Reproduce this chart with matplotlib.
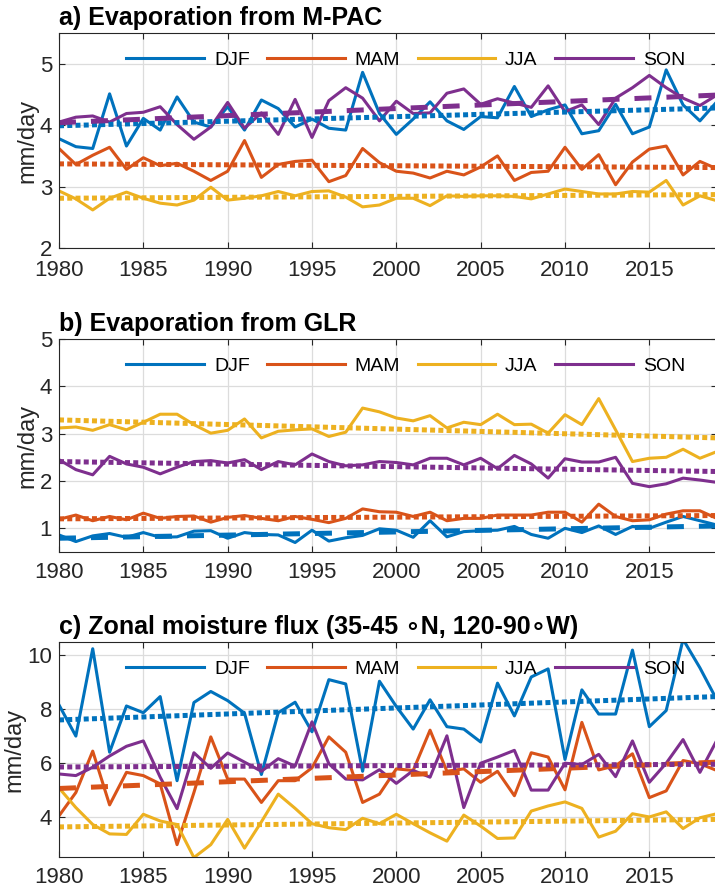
import numpy as np
import matplotlib
matplotlib.use('Agg')
import matplotlib.pyplot as plt

plt.rcParams['font.family'] = ['Liberation Sans', 'DejaVu Sans']

years = np.arange(1980, 2020)
seasons = ['DJF', 'MAM', 'JJA', 'SON']
colors = ['#0072BD', '#D95319', '#EDB120', '#7E2F8E']

# a) Evaporation from M-PAC
mpac_djf = [3.78, 3.65, 3.62, 4.51, 3.66, 4.11, 3.92, 4.46, 4.05, 3.97,
            4.30, 3.92, 4.41, 4.27, 3.97, 4.10, 3.95, 3.92, 4.86, 4.19,
            3.85, 4.10, 4.38, 4.07, 3.93, 4.14, 4.12, 4.63, 4.14, 4.25,
            4.33, 3.86, 3.91, 4.34, 3.86, 3.97, 4.90, 4.33, 4.07, 4.38]
mpac_mam = [3.62, 3.36, 3.51, 3.64, 3.28, 3.47, 3.34, 3.38, 3.25, 3.10,
            3.25, 3.75, 3.15, 3.36, 3.41, 3.43, 3.08, 3.18, 3.62, 3.39,
            3.25, 3.22, 3.14, 3.25, 3.19, 3.32, 3.50, 3.10, 3.23, 3.25,
            3.64, 3.28, 3.52, 3.03, 3.40, 3.61, 3.66, 3.19, 3.41, 3.29]
mpac_jja = [2.93, 2.80, 2.62, 2.81, 2.91, 2.81, 2.73, 2.70, 2.78, 2.99,
            2.78, 2.81, 2.85, 2.92, 2.85, 2.92, 2.93, 2.83, 2.67, 2.70,
            2.81, 2.81, 2.69, 2.85, 2.84, 2.85, 2.85, 2.84, 2.80, 2.88,
            2.96, 2.92, 2.88, 2.88, 2.92, 2.91, 3.10, 2.70, 2.85, 2.77]
mpac_son = [4.05, 4.13, 4.15, 4.05, 4.19, 4.21, 4.30, 4.01, 3.77, 3.97,
            4.37, 3.95, 4.20, 3.85, 4.42, 3.80, 4.40, 4.61, 4.44, 4.07,
            4.39, 4.19, 4.20, 4.52, 4.59, 4.34, 4.43, 4.36, 4.29, 4.64,
            4.22, 4.33, 4.01, 4.44, 4.61, 4.81, 4.61, 4.44, 4.32, 4.49]
mpac_trend = [(3.99, 4.28), (3.37, 3.31), (2.81, 2.87), (4.04, 4.49)]
mpac_sig = [False, False, False, True]

# b) Evaporation from GLR
glr_djf = [0.86, 0.72, 0.84, 0.89, 0.81, 0.91, 0.81, 0.82, 0.94, 0.95,
           0.79, 0.91, 0.87, 0.86, 0.70, 0.96, 0.73, 0.80, 0.85, 0.99,
           0.96, 0.81, 1.16, 0.82, 0.93, 0.95, 0.96, 1.04, 0.87, 0.79,
           1.00, 0.91, 1.05, 0.87, 1.04, 1.00, 1.13, 1.25, 1.16, 1.07]
glr_mam = [1.19, 1.28, 1.16, 1.25, 1.18, 1.32, 1.21, 1.25, 1.26, 1.13,
           1.23, 1.27, 1.21, 1.16, 1.25, 1.19, 1.12, 1.21, 1.41, 1.35,
           1.34, 1.25, 1.34, 1.16, 1.21, 1.21, 1.28, 1.28, 1.28, 1.34,
           1.34, 1.13, 1.51, 1.25, 1.16, 1.18, 1.30, 1.37, 1.37, 1.21]
glr_jja = [3.12, 3.14, 3.07, 3.19, 3.08, 3.24, 3.41, 3.41, 3.19, 3.01,
           3.07, 3.31, 2.91, 3.05, 3.08, 3.10, 2.94, 3.03, 3.54, 3.46,
           3.33, 3.27, 3.38, 3.12, 3.24, 3.19, 3.41, 3.19, 3.20, 3.01,
           3.40, 3.19, 3.74, 3.08, 2.41, 2.48, 2.50, 2.67, 2.48, 2.62]
glr_son = [2.45, 2.24, 2.13, 2.52, 2.36, 2.29, 2.15, 2.29, 2.41, 2.43,
           2.38, 2.45, 2.24, 2.41, 2.34, 2.57, 2.41, 2.32, 2.34, 2.41,
           2.39, 2.34, 2.48, 2.48, 2.34, 2.48, 2.26, 2.54, 2.36, 2.06,
           2.47, 2.40, 2.40, 2.50, 1.95, 1.88, 1.94, 2.06, 2.02, 1.97]
glr_trend = [(0.79, 1.05), (1.20, 1.27), (3.29, 2.91), (2.41, 2.20)]
glr_sig = [True, False, False, False]

# c) Zonal moisture flux
flux_djf = [8.16, 7.00, 10.25, 6.40, 8.12, 7.87, 8.47, 5.34, 8.25, 8.66,
            8.32, 7.85, 5.57, 7.87, 8.26, 7.16, 9.10, 8.94, 5.69, 9.04,
            8.10, 7.26, 8.35, 7.35, 7.26, 6.78, 8.97, 7.75, 9.20, 9.50,
            6.13, 8.72, 7.82, 7.82, 10.20, 7.35, 7.95, 10.60, 9.54, 8.35]
flux_mam = [4.03, 4.90, 6.44, 4.44, 5.65, 5.53, 5.22, 2.96, 4.90, 6.97,
            5.40, 5.40, 4.53, 5.34, 5.34, 5.82, 6.97, 6.40, 4.53, 4.84,
            5.78, 5.72, 7.22, 5.69, 5.78, 5.28, 5.69, 4.78, 6.38, 6.22,
            5.00, 7.51, 5.74, 5.90, 6.34, 4.71, 4.96, 6.09, 5.97, 5.72]
flux_jja = [5.07, 4.34, 3.71, 3.36, 3.34, 4.09, 3.84, 3.71, 2.48, 2.96,
            3.90, 2.83, 3.81, 4.84, 4.31, 3.74, 3.59, 3.52, 3.94, 3.74,
            4.09, 3.74, 3.40, 3.09, 4.06, 3.65, 3.19, 3.21, 4.21, 4.40,
            4.55, 4.31, 3.24, 3.46, 4.11, 3.99, 4.18, 3.56, 3.96, 4.11]
flux_son = [5.59, 5.53, 5.84, 6.26, 6.62, 6.82, 5.47, 4.30, 6.38, 5.80,
            6.37, 6.03, 5.69, 6.16, 5.88, 7.53, 5.97, 5.40, 5.37, 5.75,
            5.24, 5.72, 5.47, 7.01, 4.34, 5.99, 6.22, 6.47, 4.99, 4.99,
            5.99, 5.94, 6.32, 5.49, 6.82, 5.28, 5.99, 6.87, 5.65, 6.84]
flux_trend = [(7.60, 8.47), (5.05, 6.03), (3.62, 3.90), (5.85, 5.95)]
flux_sig = [False, True, False, False]

panels = [
    ('a) Evaporation from M-PAC', [mpac_djf, mpac_mam, mpac_jja, mpac_son],
     mpac_trend, mpac_sig, (2, 5.5), [2, 3, 4, 5]),
    ('b) Evaporation from GLR', [glr_djf, glr_mam, glr_jja, glr_son],
     glr_trend, glr_sig, (0.5, 5), [1, 2, 3, 4, 5]),
    ('c) Zonal moisture flux (35-45 \u2218N, 120-90\u2218W)',
     [flux_djf, flux_mam, flux_jja, flux_son],
     flux_trend, flux_sig, (2.5, 10.5), [4, 6, 8, 10]),
]

fig = plt.figure(figsize=(7.15, 8.88), dpi=100)
axes_pos = [[0.0825, 0.7207, 0.920, 0.2421],
            [0.0825, 0.3784, 0.920, 0.2399],
            [0.0825, 0.0349, 0.920, 0.2421]]
xpads = [8.5, 7, 7]

for pos, xpad, (title, series, trend, sig, ylim, yticks) in zip(axes_pos, xpads, panels):
    ax = fig.add_axes(pos)
    for vals, c, name in zip(series, colors, seasons):
        ax.plot(years, vals, '-', color=c, linewidth=2.2, label=name)
    for tr, s, c in zip(trend, sig, colors):
        if s:
            ax.plot([years[0], years[-1]], tr, color=c, linewidth=3.6,
                    dashes=(3.4, 3.0), solid_capstyle='butt')
        else:
            ax.plot([years[0], years[-1]], tr, color=c, linewidth=3.6,
                    dashes=(1.0, 0.65), solid_capstyle='butt')
    ax.set_xlim(1980, 2019)
    ax.set_ylim(ylim)
    ax.set_yticks(yticks)
    ax.set_xticks(np.arange(1980, 2019, 5))
    ax.grid(True, color='#dcdcdc', linewidth=0.9)
    ax.set_axisbelow(True)
    ax.tick_params(direction='in', length=4.5, width=0.8, colors='#262626',
                   labelsize=16, top=True, right=True)
    ax.tick_params(axis='x', pad=xpad)
    ax.tick_params(axis='y', pad=5)
    for sp in ax.spines.values():
        sp.set_color('#262626')
        sp.set_linewidth(0.8)
    ax.set_ylabel('mm/day', fontsize=17, color='#262626', labelpad=1)
    ax.set_title(title, loc='left', fontsize=18, fontweight='bold', pad=6)
    ax.legend(loc='center', bbox_to_anchor=(0.527, 1 - 27 / 215), ncol=4,
              frameon=False, fontsize=14, handlelength=4.0,
              handletextpad=0.5, columnspacing=0.9, borderpad=0)

fig.savefig('out.png', dpi=100)
